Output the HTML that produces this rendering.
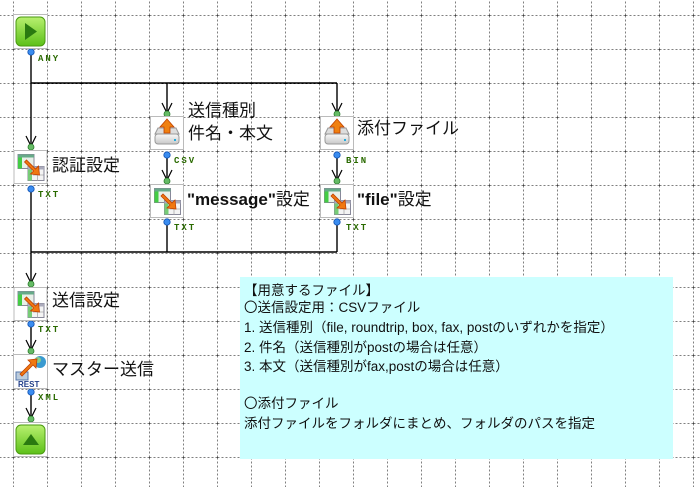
<!DOCTYPE html>
<html><head><meta charset="utf-8"><style>
html,body{margin:0;padding:0;background:#fff;}
svg{display:block;}
.lb{font-family:"Liberation Sans","Noto Sans CJK JP",sans-serif;font-size:17px;fill:#111;}
.pt{font-family:"Liberation Mono",monospace;font-size:9px;font-weight:bold;fill:#2a6a00;letter-spacing:2px;}
.nt{font-family:"Liberation Sans","Noto Sans CJK JP",sans-serif;font-size:13.5px;fill:#111;}
</style></head><body>
<svg width="700" height="487" viewBox="0 0 700 487" xmlns="http://www.w3.org/2000/svg">
<defs>
<pattern id="g" x="13.5" y="15.5" width="34" height="34" patternUnits="userSpaceOnUse">
<path d="M0 0 H34 M0 0 V34" stroke="#000" stroke-width="1" stroke-dasharray="2,2" fill="none"/>
</pattern>
<linearGradient id="gr" x1="0" y1="0" x2="0" y2="1"><stop offset="0" stop-color="#b8f070"/><stop offset="1" stop-color="#5cc018"/></linearGradient>
<linearGradient id="dk" x1="0" y1="0" x2="0" y2="1"><stop offset="0" stop-color="#fafafa"/><stop offset="1" stop-color="#c8c8c8"/></linearGradient>
<g id="tbl">
<rect x="0.5" y="0.5" width="33" height="33" fill="#fff" stroke="#bbb"/>
<rect x="4.5" y="4.5" width="16" height="14" fill="#e8f0e8" stroke="#889"/>
<rect x="4.5" y="4.5" width="16" height="3" fill="#6a8"/>
<rect x="4.5" y="7.5" width="4" height="11" fill="#4c4"/>
<rect x="14.5" y="16.5" width="16" height="14" fill="#f4f4f4" stroke="#889"/>
<rect x="14.5" y="16.5" width="16" height="3" fill="#aab"/>
<rect x="14.5" y="19.5" width="4" height="11" fill="#7c7"/>
<path d="M19.5 25 H30 M24 19.5 V30.5" stroke="#aaa" stroke-width="0.8"/>
<path d="M11 12 L20 21 L17 24 L26 25 L25 16 L22 19 L13 10 Z" fill="#f07810" stroke="#c04000" stroke-width="0.8"/>
</g>
<g id="dsk">
<rect x="0.5" y="0.5" width="33" height="33" fill="#fff" stroke="#bbb"/>
<path d="M5 18 L8 12 L26 12 L29 18 Z" fill="#ddd" stroke="#999"/>
<rect x="5" y="18" width="24" height="10" rx="3" fill="url(#dk)" stroke="#999"/>
<rect x="24" y="23" width="2" height="2" fill="#2ad"/>
<path d="M17 3 L24 11 L20 11 L20 17 L14 17 L14 11 L10 11 Z" fill="#f08010" stroke="#c04000" stroke-width="0.8"/>
</g>
</defs>
<rect width="700" height="487" fill="url(#g)"/>

<rect x="240" y="277" width="433" height="182" fill="#ccffff"/>
<text class="nt" x="244" y="295">【用意するファイル】</text>
<text class="nt" x="244" y="312">〇送信設定用：CSVファイル</text>
<text class="nt" x="244" y="332">1. 送信種別（file, roundtrip, box, fax, postのいずれかを指定）</text>
<text class="nt" x="244" y="352">2. 件名（送信種別がpostの場合は任意）</text>
<text class="nt" x="244" y="371">3. 本文（送信種別がfax,postの場合は任意）</text>
<text class="nt" x="244" y="408">〇添付ファイル</text>
<text class="nt" x="244" y="428">添付ファイルをフォルダにまとめ、フォルダのパスを指定</text>

<g stroke="#000" stroke-width="1.4" fill="none">
<path d="M31 51 V146"/>
<path d="M31 83 H337"/>
<path d="M167 83 V113 M337 83 V113"/>
<path d="M167 153 V180 M337 153 V180"/>
<path d="M31 189 V283"/>
<path d="M167 222 V252 M337 222 V252 M31 252 H337"/>
<path d="M31 325 V350 M31 393 V419"/>
<g stroke-width="1.2">
<path d="M26 136 L31 146 L36 136"/>
<path d="M162 103 L167 113 L172 103 M332 103 L337 113 L342 103"/>
<path d="M162 170 L167 180 L172 170 M332 170 L337 180 L342 170"/>
<path d="M26 273 L31 283 L36 273"/>
<path d="M26 340 L31 350 L36 340"/>
<path d="M26 408 L31 418 L36 408"/>
</g>
</g>
<g fill="#66bb66" stroke="#2a7a2a" stroke-width="0.8">
<circle cx="31" cy="147" r="3"/><circle cx="167" cy="114" r="3"/><circle cx="337" cy="114" r="3"/>
<circle cx="167" cy="181" r="3"/><circle cx="337" cy="181" r="3"/>
<circle cx="31" cy="284" r="3"/><circle cx="31" cy="351" r="3"/><circle cx="31" cy="419" r="3"/>
</g>
<g fill="#3a8cf0" stroke="#1050b0" stroke-width="0.8">
<circle cx="31" cy="52" r="3.2"/><circle cx="31" cy="189" r="3.2"/><circle cx="167" cy="155" r="3.2"/>
<circle cx="337" cy="155" r="3.2"/><circle cx="167" cy="222" r="3.2"/><circle cx="337" cy="222" r="3.2"/>
<circle cx="31" cy="324" r="3.2"/><circle cx="31" cy="392" r="3.2"/>
</g>
<g class="pt">
<text x="38" y="61">ANY</text><text x="38" y="197">TXT</text><text x="174" y="163">CSV</text>
<text x="346" y="163">BIN</text><text x="174" y="230">TXT</text><text x="346" y="230">TXT</text>
<text x="38" y="332">TXT</text><text x="38" y="400">XML</text>
</g>

<rect x="13.5" y="14.5" width="34" height="34" fill="#fff" stroke="#bbb"/>
<rect x="16" y="17" width="29" height="29" rx="5" fill="url(#gr)" stroke="#4a9a10"/>
<path d="M25 23 L37 31.5 L25 40 Z" fill="#2a7a10"/>
<rect x="13.5" y="422.5" width="34" height="34" fill="#fff" stroke="#bbb"/>
<rect x="16" y="425" width="29" height="29" rx="5" fill="url(#gr)" stroke="#4a9a10"/>
<path d="M23 445 L31 434 L39 445 Z" fill="#2a7a10"/>

<use href="#tbl" x="13.5" y="150"/>
<use href="#tbl" x="150" y="184"/>
<use href="#tbl" x="320" y="184"/>
<use href="#tbl" x="13.5" y="287"/>
<use href="#dsk" x="150" y="116"/>
<use href="#dsk" x="320" y="116"/>
<rect x="13.5" y="354.5" width="34" height="34" fill="#fff" stroke="#bbb"/>
<circle cx="40" cy="362" r="6" fill="#3a9ad0"/><circle cx="38" cy="360" r="3" fill="#8c8"/>
<rect x="16" y="372" width="12" height="8" fill="#bcd" stroke="#57a"/>
<path d="M20 374 L31 363 L28 360 L37 359 L36 368 L33 365 L22 376 Z" fill="#f07810" stroke="#c04000" stroke-width="0.8"/>
<text x="18" y="387" style="font-family:'Liberation Sans',sans-serif;font-size:8px;font-weight:bold;fill:#23408a">REST</text>

<text class="lb" x="52" y="171">認証設定</text>
<text class="lb" x="188" y="116">送信種別</text>
<text class="lb" x="188" y="139">件名・本文</text>
<text class="lb" x="357" y="134">添付ファイル</text>
<text class="lb" x="187" y="205"><tspan font-weight="bold">"message"</tspan>設定</text>
<text class="lb" x="357" y="205"><tspan font-weight="bold">"file"</tspan>設定</text>
<text class="lb" x="52" y="306">送信設定</text>
<text class="lb" x="52" y="375">マスター送信</text>
</svg>
</body></html>
